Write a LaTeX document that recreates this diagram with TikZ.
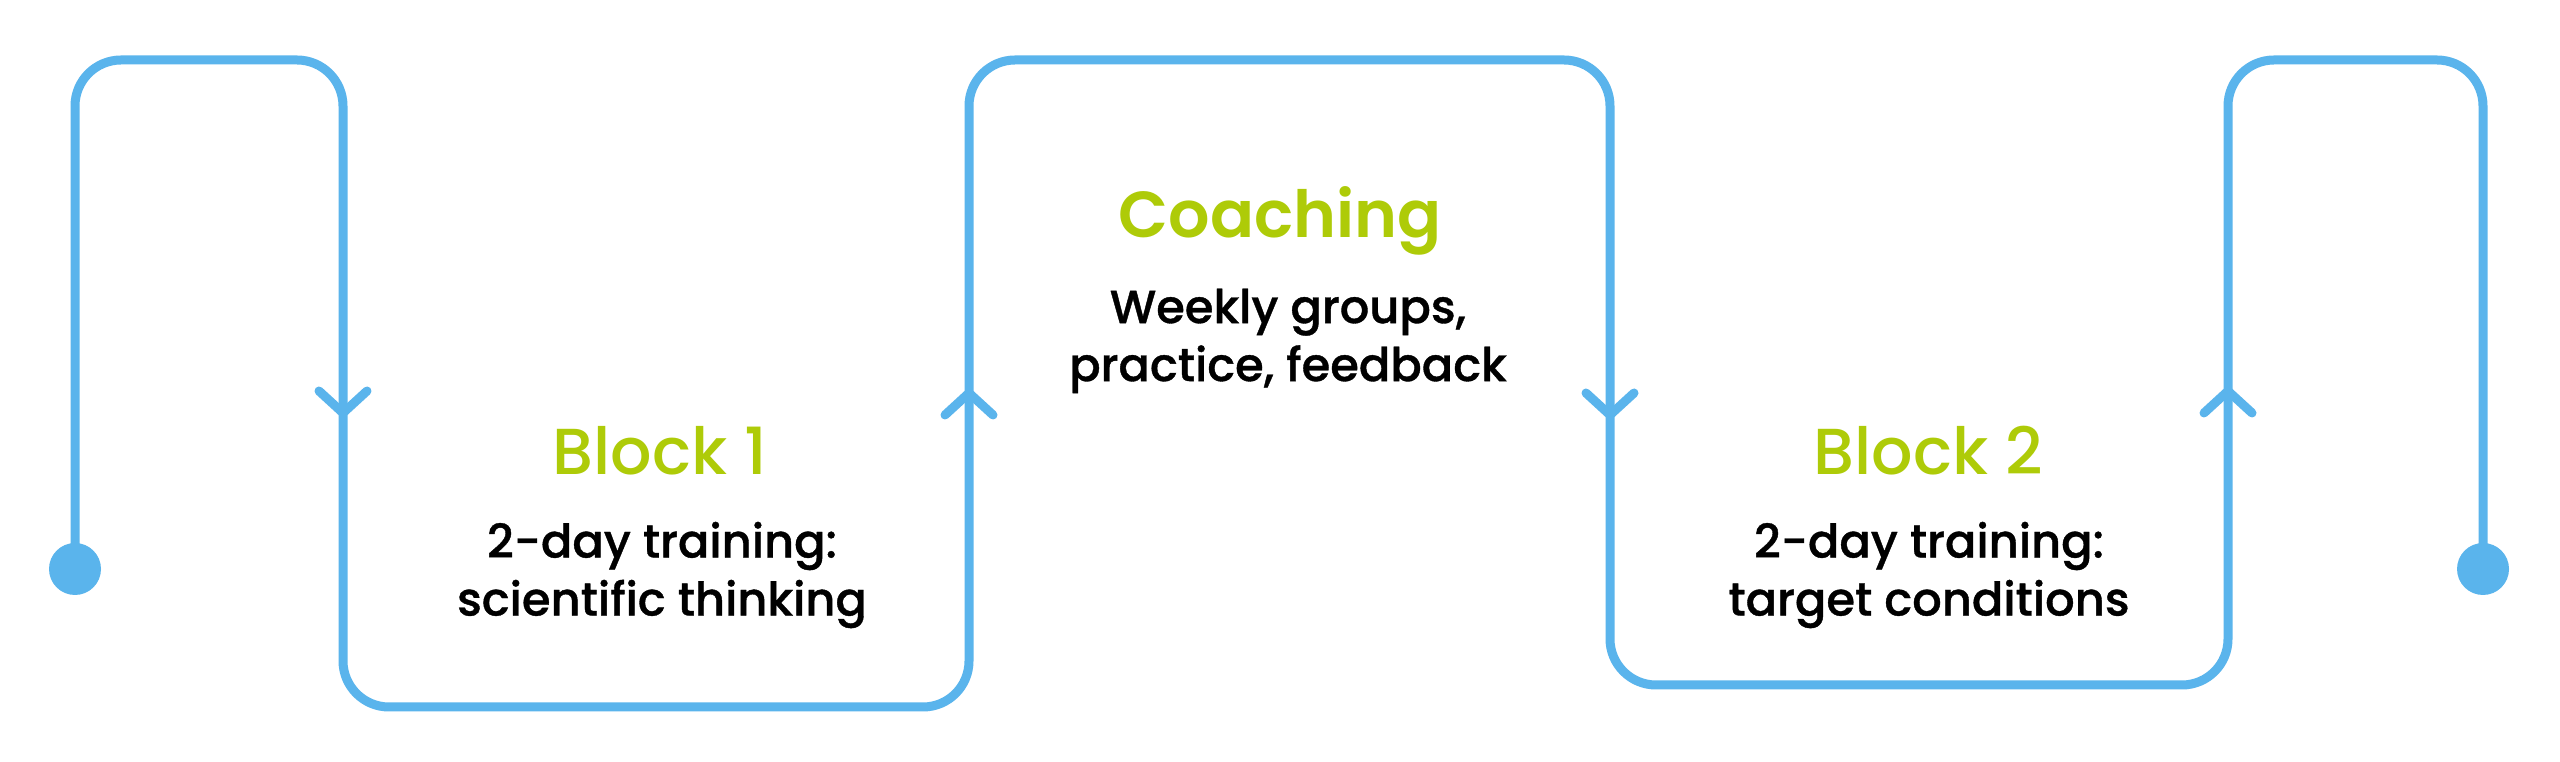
\documentclass[tikz,border=0pt]{standalone}
\usepackage{fontspec}
\setmainfont{Poppins}
\IfFontExistsTF{Poppins Medium}
  {\newfontfamily\bodyfont{Poppins Medium}[FakeBold=0.8]
   \newfontfamily\titlefont{Poppins Medium}}
  {\newfontfamily\bodyfont{Poppins}[FakeBold=2.5]
   \newfontfamily\titlefont{Poppins}[FakeBold=2]}
\IfFontExistsTF{Poppins SemiBold}
  {\newfontfamily\headfont{Poppins SemiBold}}
  {\newfontfamily\headfont{Poppins}[FakeBold=3]}
\usetikzlibrary{positioning}

\definecolor{pathblue}{RGB}{90,180,236}
\definecolor{titlegreen}{RGB}{174,203,8}

\tikzset{
  flow/.style={draw=pathblue, line width=0.09cm, line cap=round, line join=round},
  enddot/.style={circle, fill=pathblue, minimum size=0.52cm, inner sep=0pt},
  blocktitle/.style={text=titlegreen, font=\titlefont\fontsize{18.5}{23}\selectfont, inner sep=0pt},
  coachtitle/.style={blocktitle, font=\headfont\fontsize{18.5}{23}\selectfont},
  blocktext/.style={align=center, font=\bodyfont\fontsize{13.2}{16.5}\selectfont, inner sep=0pt}
}

\begin{document}
\begin{tikzpicture}
            \useasboundingbox[fill=white] (0,0) rectangle (25.6,7.62);
            % end points
            \node[enddot] (start) at (0.75,1.93) {};
            \node[enddot] (stop) at (24.83,1.93) {};
            % corners of the path
            \coordinate (c1) at (0.75,7.02);
            \coordinate (c2) at (3.43,7.02);
            \coordinate (c3) at (3.43,0.55);
            \coordinate (c4) at (9.69,0.55);
            \coordinate (c5) at (9.69,7.02);
            \coordinate (c6) at (16.10,7.02);
            \coordinate (c7) at (16.10,0.77);
            \coordinate (c8) at (22.28,0.77);
            \coordinate (c9) at (22.28,7.02);
            \coordinate (c10) at (24.83,7.02);
            \draw[flow, rounded corners=0.46cm] (start.center) -- (c1) -- (c2) -- (c3) -- (c4) -- (c5) -- (c6) -- (c7) -- (c8) -- (c9) -- (c10) -- (stop.center);
            % arrow heads
            \draw[flow] (3.19,3.71) -- (3.43,3.49) -- (3.67,3.71);
            \draw[flow] (9.45,3.47) -- (9.69,3.69) -- (9.93,3.47);
            \draw[flow] (15.86,3.69) -- (16.10,3.47) -- (16.34,3.69);
            \draw[flow] (22.04,3.49) -- (22.28,3.71) -- (22.52,3.49);
            % labels
            \node[blocktitle, anchor=base] (block1) at (6.60,2.87) {Block 1};
            \node[blocktext] (block1text) at (6.62,1.87) {2-day training:\\scientific thinking};
            \node[coachtitle, anchor=base] (coaching) at (12.80,5.24) {Coaching};
            \node[blocktext] (coachingtext) at (12.88,4.21) {Weekly groups,\\practice, feedback};
            \node[blocktitle, anchor=base] (block2) at (19.28,2.87) {Block 2};
            \node[blocktext] (block2text) at (19.29,1.87) {2-day training:\\target conditions};
\end{tikzpicture}
\end{document}
